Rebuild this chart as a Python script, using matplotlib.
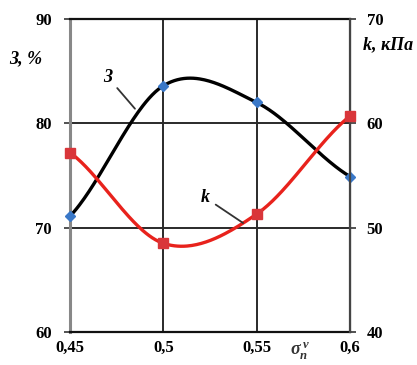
import numpy as np
import matplotlib
matplotlib.use("Agg")
import matplotlib.pyplot as plt

x_vals = [0.45, 0.5, 0.55, 0.6]
x_labels = ["0,45", "0,5", "0,55", "0,6"]
z_vals = [71.1, 83.6, 82.0, 74.9]
k_vals = [57.2, 48.5, 51.3, 60.7]
left_ticks = [60, 70, 80, 90]
right_ticks = [40, 50, 60, 70]


def smooth(xs, ys, n=60):
    xs = np.asarray(xs, float)
    ys = np.asarray(ys, float)
    m = np.zeros_like(ys)
    m[1:-1] = (ys[2:] - ys[:-2]) / 2.0
    m[0] = (ys[1] - ys[0]) * 0.75
    m[-1] = (ys[-1] - ys[-2]) * 0.75
    ox, oy = [], []
    for i in range(len(xs) - 1):
        t = np.linspace(0, 1, n)
        h00 = 2 * t**3 - 3 * t**2 + 1
        h10 = t**3 - 2 * t**2 + t
        h01 = -2 * t**3 + 3 * t**2
        h11 = t**3 - t**2
        oy.append(h00 * ys[i] + h10 * m[i] + h01 * ys[i + 1] + h11 * m[i + 1])
        ox.append(xs[i] + t * (xs[i + 1] - xs[i]))
    return np.concatenate(ox), np.concatenate(oy)


plt.rcParams['font.family'] = ['Liberation Serif', 'DejaVu Serif']
plt.rcParams['mathtext.fontset'] = 'custom'
plt.rcParams['mathtext.it'] = 'Liberation Serif:italic:bold'
plt.rcParams['mathtext.rm'] = 'Liberation Serif:bold'

fig = plt.figure(figsize=(4.17, 3.65), dpi=100)
ax = fig.add_axes([70 / 417, 1 - 332 / 365, 280 / 417, 313 / 365])
ax2 = ax.twinx()

ax.set_xlim(0.45, 0.6)
ax.set_ylim(60, 90)
ax2.set_ylim(40, 70)

for v in [0.5, 0.55]:
    ax.axvline(v, color='#2a2a2a', lw=1.4, zorder=1)
for v in [70, 80]:
    ax.axhline(v, color='#2a2a2a', lw=1.4, zorder=1)

sx, sy = smooth(x_vals, z_vals)
ax.plot(sx, sy, color='black', lw=2.4, zorder=3, clip_on=False)
ax.plot(x_vals, z_vals, ls='none', marker='D', ms=5.5, color='#3a78c8', zorder=4, clip_on=False)

kx, ky = smooth(x_vals, k_vals)
ax2.plot(kx, ky, color='#e8221c', lw=2.4, zorder=3, clip_on=False)
ax2.plot(x_vals, k_vals, ls='none', marker='s', ms=7, color='#d9363a', zorder=4, clip_on=False)

ax.set_xticks(x_vals)
ax.set_xticklabels(x_labels)
ax.set_yticks(left_ticks)
ax2.set_yticks(right_ticks)

for a in (ax, ax2):
    a.tick_params(labelsize=12, length=4, width=1.2, color='#333333', pad=6)
    for lab in a.get_xticklabels() + a.get_yticklabels():
        lab.set_fontweight('bold')
ax.tick_params(axis='x', length=0, pad=6)
ax.tick_params(axis='y', pad=9)
ax2.tick_params(axis='y', pad=8)

ax.spines['left'].set_color('#888888')
ax.spines['left'].set_linewidth(2.2)
ax.spines['top'].set_color('#111111')
ax.spines['top'].set_linewidth(1.6)
ax.spines['bottom'].set_color('#111111')
ax.spines['bottom'].set_linewidth(1.6)
ax2.spines['right'].set_color('#444444')
ax2.spines['right'].set_linewidth(1.6)
for s in ['left', 'top', 'bottom']:
    ax2.spines[s].set_visible(False)

fig.text(26 / 417, 1 - 59 / 365, "З, %", fontsize=13, fontweight='bold', fontstyle='italic',
         ha='center', va='center')
fig.text(388 / 417, 1 - 45 / 365, "k, кПа", fontsize=13, fontweight='bold', fontstyle='italic',
         ha='center', va='center')
fig.text(300 / 417, 1 - 351 / 365, r"$\sigma_{п}^{\,v}$", fontsize=13, color='#333333',
         ha='center', va='center')

ax.annotate("З", xy=(0.4848, 81.4), xytext=(0.4704, 84.4), fontsize=13, fontstyle='italic',
            fontweight='bold', ha='center', va='center',
            arrowprops=dict(arrowstyle='-', color='#333333', lw=1.3, shrinkA=2, shrinkB=0))
ax2.annotate("k", xy=(0.5427, 50.45), xytext=(0.5223, 52.9), fontsize=13, fontstyle='italic',
             fontweight='bold', ha='center', va='center',
             arrowprops=dict(arrowstyle='-', color='#333333', lw=1.3, shrinkA=3, shrinkB=0))

fig.savefig("out.png", dpi=100)
